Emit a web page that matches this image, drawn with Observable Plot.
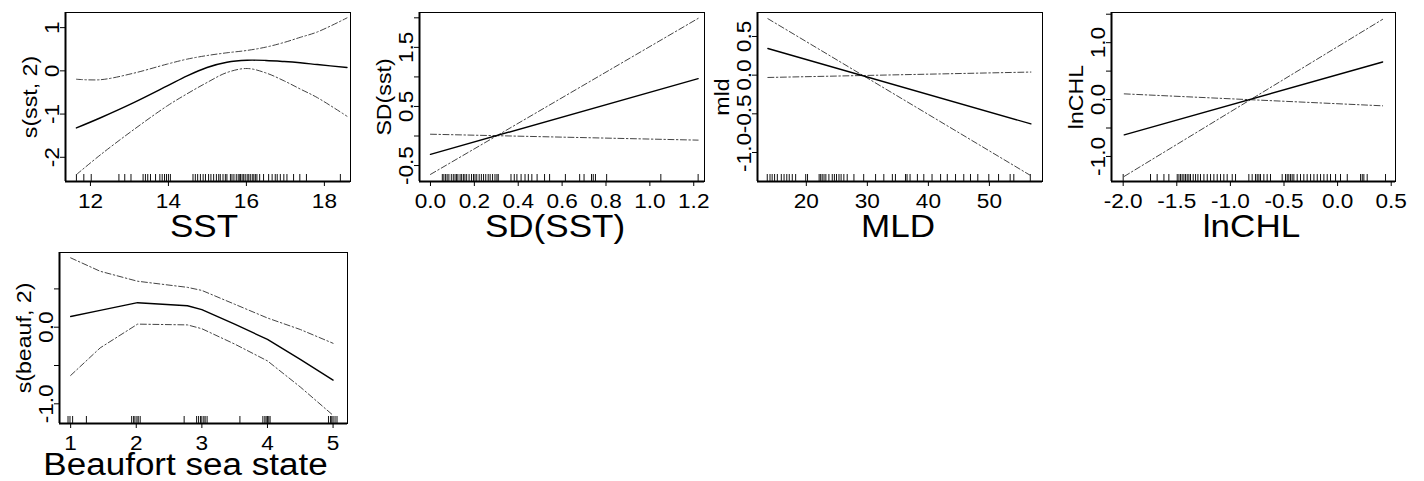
<!DOCTYPE html>
<html>
<head>
<meta charset="utf-8">
<script src="https://cdn.jsdelivr.net/npm/d3@7"></script>
<script src="https://cdn.jsdelivr.net/npm/@observablehq/plot@0.6"></script>
<style>
  html, body { margin: 0; padding: 0; background: #fff; }
  #chart { position: relative; width: 1424px; height: 481px; overflow: hidden; background: #fff; }
  #chart > div { position: absolute; }
</style>
</head>
<body>
<div id="chart"></div>
<script>
// ---------- Panel 1: SST ----------
const sstX   = [11.64, 12.26, 13.11, 13.97, 14.48, 14.99, 15.5, 16.02, 16.5, 16.97, 17.38, 17.82, 18.58];
const sstFit = [-1.32, -1.085, -0.736, -0.349, -0.116, 0.078, 0.2, 0.245, 0.24, 0.215, 0.186, 0.146, 0.078];
const sstHi  = [-0.194, -0.205, -0.054, 0.157, 0.271, 0.354, 0.418, 0.473, 0.549, 0.658, 0.775, 0.9, 1.225];
const sstLo  = [-2.40, -1.94, -1.36, -0.81, -0.53, -0.27, -0.039, 0.054, -0.048, -0.233, -0.42, -0.62, -1.05];
const sstRug = [11.64,11.83,12.02,12.73,12.88,13.04,13.35,13.41,13.47,13.54,13.67,13.78,13.84,13.9,13.95,14.0,14.05,14.63,14.69,14.75,14.82,14.89,14.95,15.03,15.09,15.16,15.23,15.29,15.33,15.4,15.46,15.5,15.59,15.63,15.68,15.74,15.79,15.83,15.85,15.89,15.93,15.97,16.02,16.06,16.1,16.15,16.19,16.23,16.27,16.34,16.44,16.57,16.66,16.74,16.79,16.87,16.96,17.04,17.21,17.37,17.54,18.41];
const sstXTicks = [12, 14, 16, 18];
const sstXLabels = ["12", "14", "16", "18"];
const sstYTicks = [-2, -1, 0, 1];
const sstYLabelVals = [-2, -1, 0, 1];
const sstYLabels = ["-2", "-1", "0", "1"];

// ---------- Panel 2: SD(SST) ----------
const sdX   = [0, 1.22];
const sdFit = [-0.31, 0.97];
const sdCiA = [-0.65, 1.99];
const sdCiB = [0.03, -0.07];
const sdRug = [0.054,0.061,0.069,0.076,0.084,0.095,0.104,0.112,0.119,0.125,0.135,0.142,0.15,0.157,0.165,0.176,0.187,0.196,0.203,0.211,0.222,0.232,0.242,0.252,0.263,0.272,0.283,0.294,0.303,0.309,0.367,0.382,0.394,0.413,0.431,0.446,0.462,0.486,0.52,0.543,0.615,0.68,0.7,0.734,0.742,0.752,0.803,1.05,1.22];
const sdXTicks = [0, 0.2, 0.4, 0.6, 0.8, 1.0, 1.2];
const sdXLabels = ["0.0", "0.2", "0.4", "0.6", "0.8", "1.0", "1.2"];
const sdYTicks = [-0.5, 0, 0.5, 1, 1.5, 2];
const sdYLabelVals = [-0.5, 0.5, 1.5];
const sdYLabels = ["-0.5", "0.5", "1.5"];

// ---------- Panel 3: MLD ----------
const mldX   = [13.7, 56.8];
const mldFit = [0.345, -0.63];
const mldCiA = [0.73, -1.30];
const mldCiB = [-0.03, 0.04];
const mldRug = [13.6,14.05,14.4,14.8,15.25,15.9,16.35,16.8,17.2,17.7,18.25,19.9,20.2,22.1,22.35,22.6,22.9,23.2,23.7,24.25,24.6,24.95,25.35,25.7,26.15,26.7,27.8,29.4,31.35,32.7,34.1,34.6,36.25,36.5,37,38.2,39.25,40.6,42,43.1,44.45,45.8,46.9,48.1,49.9,51.5,53.4,54,56.7];
const mldXTicks = [20, 30, 40, 50];
const mldXLabels = ["20", "30", "40", "50"];
const mldYTicks = [-1, -0.5, 0, 0.5];
const mldYLabelVals = [-1, -0.5, 0, 0.5];
const mldYLabels = ["-1.0", "-0.5", "0.0", "0.5"];

// ---------- Panel 4: lnCHL ----------
const chlX   = [-1.99, 0.42];
const chlFit = [-0.62, 0.66];
const chlCiA = [-1.35, 1.41];
const chlCiB = [0.10, -0.11];
const chlRug = [-2.0,-1.745,-1.683,-1.62,-1.574,-1.496,-1.48,-1.465,-1.45,-1.434,-1.419,-1.403,-1.387,-1.372,-1.347,-1.325,-1.303,-1.279,-1.247,-1.216,-1.185,-1.154,-1.123,-1.092,-1.061,-1.03,-0.983,-0.952,-0.828,-0.797,-0.766,-0.75,-0.734,-0.719,-0.688,-0.657,-0.626,-0.517,-0.486,-0.47,-0.455,-0.439,-0.424,-0.408,-0.377,-0.346,-0.315,-0.284,-0.252,-0.221,-0.19,-0.159,-0.128,-0.097,-0.066,-0.019,0.027,0.09,0.214,0.23,0.245,0.276,0.447];
const chlXTicks = [-2, -1.5, -1, -0.5, 0, 0.5];
const chlXLabels = ["-2.0", "-1.5", "-1.0", "-0.5", "0.0", "0.5"];
const chlYTicks = [-1, -0.5, 0, 0.5, 1, 1.5];
const chlYLabelVals = [-1, 0, 1];
const chlYLabels = ["-1.0", "0.0", "1.0"];

// ---------- Panel 5: Beaufort ----------
const bfX   = [1, 1.45, 2.02, 2.78, 3.0, 3.5, 4.0, 4.5, 5.0];
const bfFit = [0.14, 0.22, 0.32, 0.28, 0.23, 0.04, -0.16, -0.42, -0.69];
const bfHi  = [0.905, 0.73, 0.60, 0.52, 0.48, 0.30, 0.12, -0.03, -0.21];
const bfLo  = [-0.63, -0.27, 0.04, 0.03, -0.02, -0.22, -0.44, -0.78, -1.15];
const bfRug = [0.96,0.99,1.03,1.24,1.93,1.96,1.98,2.01,2.03,2.06,2.73,2.92,2.95,2.98,3.0,3.03,3.05,3.08,3.58,3.93,3.96,3.98,4.0,4.02,4.04,4.93,4.96,4.98,5.0,5.03,5.06];
const bfXTicks = [1, 2, 3, 4, 5];
const bfXLabels = ["1", "2", "3", "4", "5"];
const bfYTicks = [-1, -0.5, 0, 0.5];
const bfYLabelVals = [-1, 0];
const bfYLabels = ["-1.0", "0.0"];

// ---------- layout (positions only) ----------
const panels = [
  {box: [0, 0, 360, 240], frame: [65, 350, 12, 181], xdom: [11.36, 18.67], ydom: [-2.56, 1.35],
   x: sstX, fit: sstFit, a: sstHi, b: sstLo, rug: sstRug, curve: "catmull-rom", titleDy: 55, titleDx: -4,
   xt: sstXTicks, xl: sstXLabels, yt: sstYTicks, ylv: sstYLabelVals, yl: sstYLabels,
   xTitle: "SST", yTitle: "s(sst, 2)"},
  {box: [360, 0, 350, 240], frame: [419, 704, 12, 181], xdom: [-0.05, 1.249], ydom: [-0.77, 2.09],
   x: sdX, fit: sdFit, a: sdCiA, b: sdCiB, rug: sdRug, curve: "linear", titleDy: 55, titleDx: -7,
   xt: sdXTicks, xl: sdXLabels, yt: sdYTicks, ylv: sdYLabelVals, yl: sdYLabels,
   xTitle: "SD(SST)", yTitle: "SD(sst)"},
  {box: [704, 0, 348, 240], frame: [757, 1042, 12, 181], xdom: [12.0, 58.7], ydom: [-1.375, 0.81],
   x: mldX, fit: mldFit, a: mldCiA, b: mldCiB, rug: mldRug, curve: "linear", titleDy: 55, titleDx: -2,
   xt: mldXTicks, xl: mldXLabels, yt: mldYTicks, ylv: mldYLabelVals, yl: mldYLabels,
   xTitle: "MLD", yTitle: "mld"},
  {box: [1056, 0, 368, 240], frame: [1111, 1395, 12, 181], xdom: [-2.109, 0.54], ydom: [-1.44, 1.53],
   x: chlX, fit: chlFit, a: chlCiA, b: chlCiB, rug: chlRug, curve: "linear", titleDy: 55, titleDx: -2,
   xt: chlXTicks, xl: chlXLabels, yt: chlYTicks, ylv: chlYLabelVals, yl: chlYLabels,
   xTitle: "lnCHL", yTitle: "lnCHL"},
  {box: [0, 240, 360, 241], frame: [59, 347, 252, 423], xdom: [0.83, 5.22], ydom: [-1.257, 0.975],
   x: bfX, fit: bfFit, a: bfHi, b: bfLo, rug: bfRug, curve: "linear", titleDy: 51, titleDx: -18,
   xt: bfXTicks, xl: bfXLabels, yt: bfYTicks, ylv: bfYLabelVals, yl: bfYLabels,
   xTitle: "Beaufort sea state", yTitle: "s(beauf, 2)"}
];

const FONT = "'Liberation Sans', Arial, Helvetica, sans-serif";
const WIDEN = 1.13; // glyphs in the reference are drawn slightly wider than Arial
const chart = document.getElementById("chart");

for (const p of panels) {
  const [bl, bt, bw, bh] = p.box;
  const [fx0, fx1, fy0, fy1] = p.frame;
  const mL = fx0 - bl, mR = bl + bw - fx1, mT = fy0 - bt, mB = bt + bh - fy1;
  const innerH = fy1 - fy0;
  const rows = p.x.map((x, i) => ({x, fit: p.fit[i], a: p.a[i], b: p.b[i]}));
  const xMap = new Map(p.xt.map((v, i) => [v, p.xl[i]]));
  const ciStyle = {stroke: "#444", strokeWidth: 1, strokeDasharray: "6,2.5,1.5,2.5", curve: p.curve};

  const svg = Plot.plot({
    width: bw, height: bh,
    marginLeft: mL, marginRight: mR, marginTop: mT, marginBottom: mB,
    x: {domain: p.xdom, axis: null, label: null},
    y: {domain: p.ydom, axis: null, label: null},
    style: {fontFamily: FONT, fontSize: "20px", background: "transparent", overflow: "visible", color: "#000"},
    marks: [
      Plot.frame({stroke: "#000", strokeWidth: 1}),
      Plot.ruleX([p.xdom[0]], {stroke: "#000", strokeWidth: 2}),
      Plot.ruleY([p.ydom[0]], {stroke: "#000", strokeWidth: 2}),
      Plot.ruleX(p.rug, {x: d => d, insetTop: innerH - 7, stroke: "#111", strokeWidth: 1}),
      Plot.line(rows, {x: "x", y: "a", ...ciStyle}),
      Plot.line(rows, {x: "x", y: "b", ...ciStyle}),
      Plot.line(rows, {x: "x", y: "fit", stroke: "#000", strokeWidth: 1.4, curve: p.curve}),
      Plot.axisX({ticks: p.xt, tickSize: 5, tickPadding: 7, tickFormat: d => xMap.get(d), label: null, fontSize: 20, stroke: "#000"}),
      Plot.axisY({ticks: p.yt, tickSize: 5, tickFormat: () => "", label: null, stroke: "#000"}),
      Plot.text(p.ylv, {y: d => d, text: (d, i) => p.yl[i], frameAnchor: "left", dx: -7, rotate: -90,
                        textAnchor: "middle", lineAnchor: "bottom", fontSize: 20, fill: "#000"}),
      Plot.text([p.xTitle], {text: d => d, frameAnchor: "bottom", dx: p.titleDx, dy: p.titleDy, lineAnchor: "bottom",
                             fontSize: 31, fill: "#000"}),
      Plot.text([p.yTitle], {text: d => d, frameAnchor: "left", dx: -29, rotate: -90,
                             textAnchor: "middle", lineAnchor: "bottom", fontSize: 20.5, fill: "#000"})
    ]
  });
  const wrap = document.createElement("div");
  wrap.style.left = bl + "px";
  wrap.style.top = bt + "px";
  wrap.style.width = bw + "px";
  wrap.style.height = bh + "px";
  wrap.appendChild(svg);
  chart.appendChild(wrap);

  // widen glyphs along the text direction to match the reference lettering
  svg.querySelectorAll("text").forEach(t => {
    if (!t.textContent) return;
    const L = t.getComputedTextLength();
    if (L > 0) {
      t.setAttribute("textLength", (L * WIDEN).toFixed(2));
      t.setAttribute("lengthAdjust", "spacingAndGlyphs");
    }
  });
}
</script>
</body>
</html>
